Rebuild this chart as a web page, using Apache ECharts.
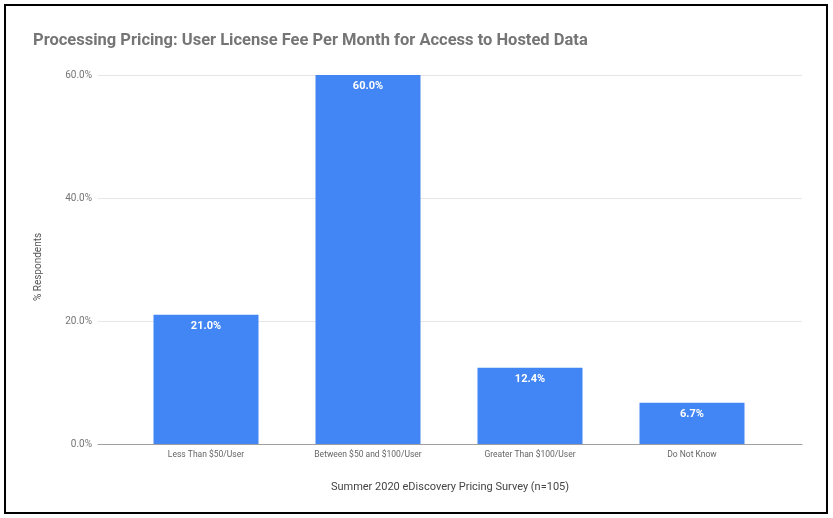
<!DOCTYPE html>
<html>
<head>
    <meta charset="UTF-8">
    <title>User License Fee Per Month</title>
    <script src="https://cdn.jsdelivr.net/npm/echarts@6/dist/echarts.min.js"></script>
    <style>
        html, body { margin: 0; padding: 0; background: #fff; }
        #chart { width: 833px; height: 518px; }
    </style>
</head>
<body>
<div id="chart"></div>
<script type="text/javascript">
    // data
    var categories = ['Less Than $50/User', 'Between $50 and $100/User', 'Greater Than $100/User', 'Do Not Know'];
    var respondents = [21.0, 60.0, 12.4, 6.7];
    var yTicks = [0, 20, 40, 60];

    var pct = function (v) { return Number(v).toFixed(1) + '%'; };

    var option = {
        backgroundColor: '#ffffff',
        textStyle: { fontFamily: 'Roboto' },
        title: {
            text: 'Processing Pricing: User License Fee Per Month for Access to Hosted Data',
            left: 28,
            top: 27,
            textStyle: { fontFamily: 'Roboto', fontSize: 16.5, fontWeight: 'bold', color: '#757575' }
        },
        graphic: [
            {
                type: 'rect',
                shape: { x: 5, y: 5, width: 822, height: 508 },
                style: { fill: 'none', stroke: '#000', lineWidth: 2 },
                silent: true
            },
            {
                type: 'text',
                x: 38,
                y: 267,
                rotation: Math.PI / 2,
                style: {
                    text: '% Respondents',
                    fontFamily: 'Roboto',
                    fontSize: 10,
                    fill: '#555',
                    align: 'center',
                    verticalAlign: 'middle'
                }
            }
        ],
        grid: [
            { left: 98, right: 31, top: 75, bottom: 74 },
            { left: 125, right: 60, top: 75, bottom: 74 }
        ],
        xAxis: [
            {
                gridIndex: 0,
                type: 'value',
                min: 0,
                max: 1,
                axisLabel: { show: false },
                axisTick: { show: false },
                splitLine: { show: false },
                axisLine: { show: true, lineStyle: { color: '#9e9e9e', width: 1 } },
                name: 'Summer 2020 eDiscovery Pricing Survey (n=105)',
                nameLocation: 'middle',
                nameGap: 38,
                nameTextStyle: { fontFamily: 'Roboto', fontSize: 11, color: '#444' }
            },
            {
                gridIndex: 1,
                type: 'category',
                data: categories,
                axisLine: { show: false },
                axisTick: { show: false },
                axisLabel: { fontFamily: 'Roboto', fontSize: 8.5, color: '#666', margin: 6, interval: 0 }
            }
        ],
        yAxis: [
            {
                gridIndex: 0,
                type: 'value',
                min: yTicks[0],
                max: yTicks[yTicks.length - 1],
                interval: yTicks[1] - yTicks[0],
                axisLine: { show: false },
                axisTick: { show: false },
                axisLabel: { formatter: pct, fontFamily: 'Roboto', fontSize: 10, color: '#757575', margin: 6 },
                splitLine: { lineStyle: { color: '#e6e6e6', width: 1 } }
            },
            {
                gridIndex: 1,
                type: 'value',
                min: yTicks[0],
                max: yTicks[yTicks.length - 1],
                show: false,
                splitLine: { show: false }
            }
        ],
        series: [
            {
                type: 'bar',
                xAxisIndex: 1,
                yAxisIndex: 1,
                data: respondents,
                barWidth: 105,
                itemStyle: { color: '#4285f4' },
                label: {
                    show: true,
                    position: 'insideTop',
                    distance: 6,
                    formatter: function (p) { return pct(p.value); },
                    fontFamily: 'Roboto',
                    fontSize: 11,
                    fontWeight: 'bold',
                    color: '#ffffff'
                },
                silent: true
            }
        ]
    };

    var myChart = echarts.init(document.getElementById('chart'));
    myChart.setOption(option);
</script>
</body>
</html>
